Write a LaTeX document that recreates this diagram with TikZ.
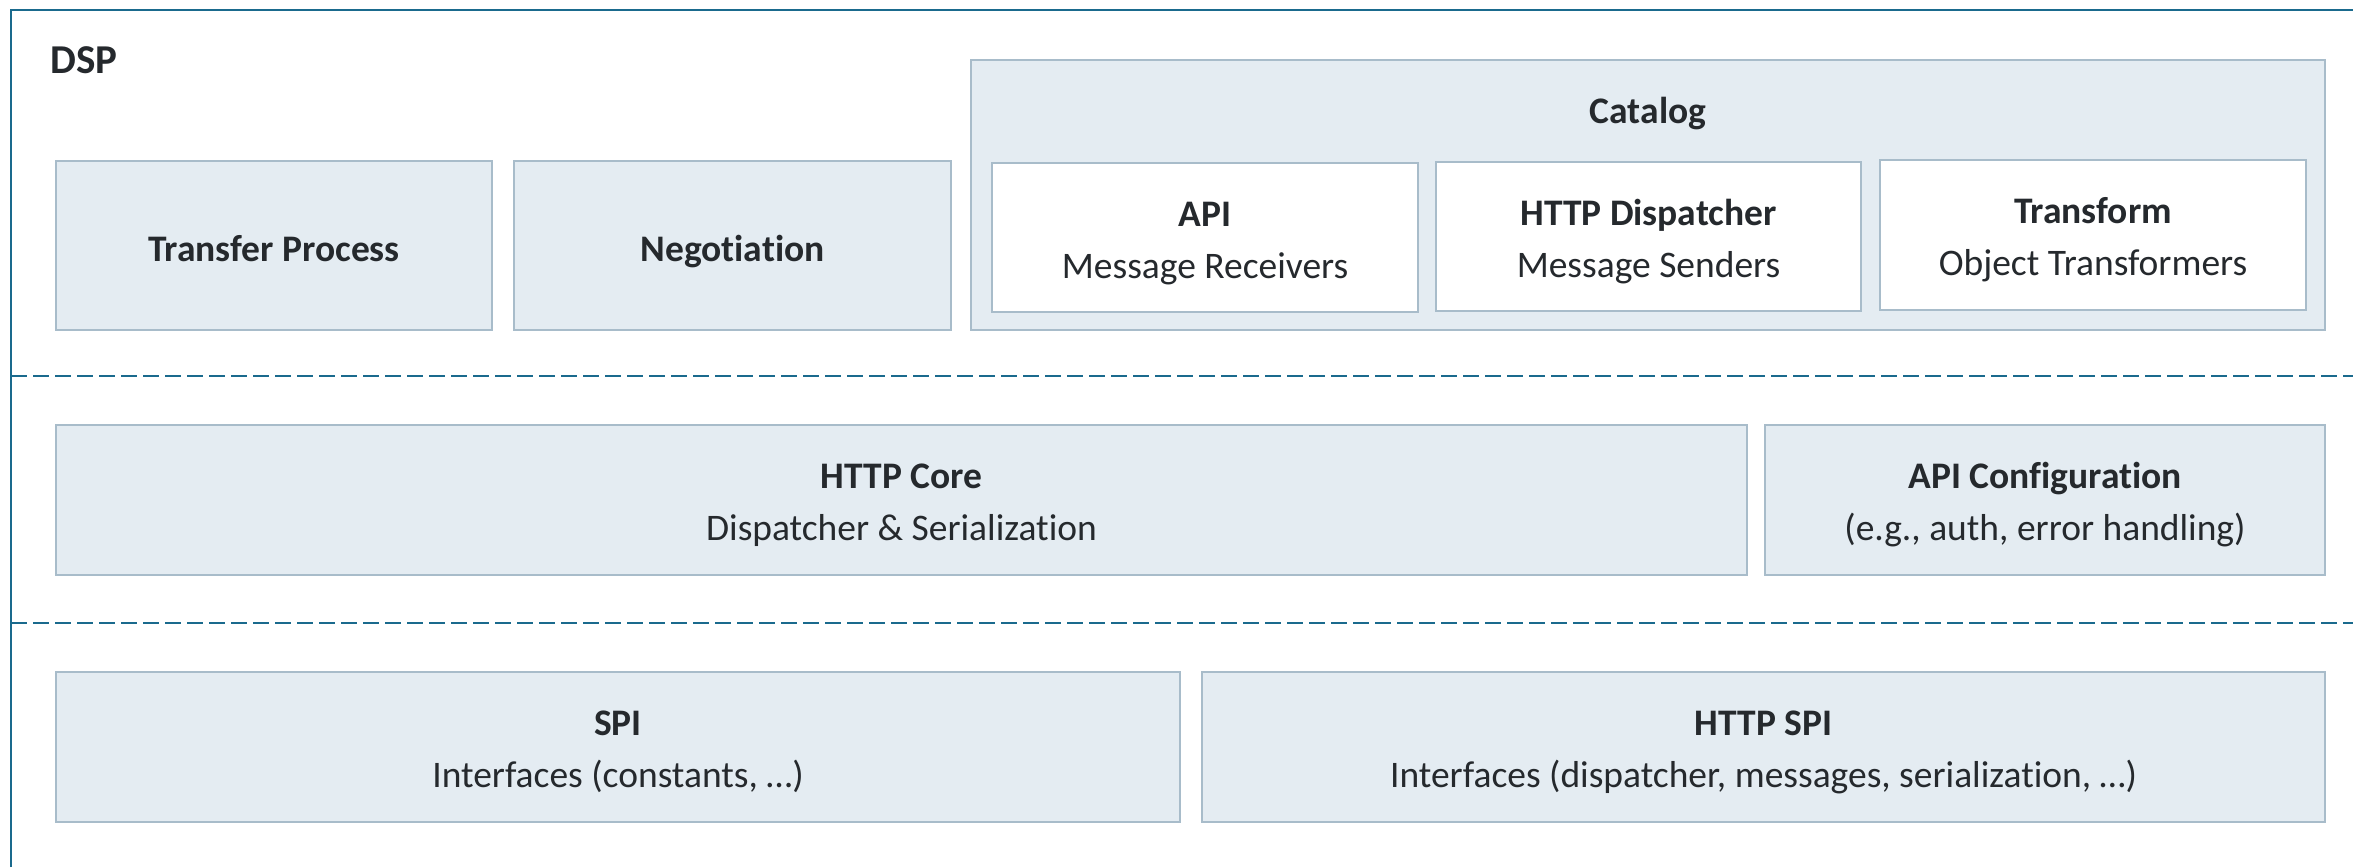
\documentclass[tikz,border=0pt]{standalone}
\usepackage{fontspec}
\setmainfont{Carlito}[RawFeature=-liga]
\usetikzlibrary{fit}
\definecolor{boxfill}{HTML}{E4ECF2}
\definecolor{boxline}{HTML}{A8BCCA}
\definecolor{frameline}{HTML}{1A6A8D}
\definecolor{txt}{HTML}{25292D}
\begin{document}
\begin{tikzpicture}[x=0.5pt,y=-0.5pt,
  box/.style={draw=boxline, line width=1pt, fill=boxfill, inner sep=0pt, outer sep=0pt},
  wbox/.style={box, fill=white},
  sepline/.style={draw=frameline, line width=1.2pt, dash pattern=on 8pt off 3pt},
  frameedge/.style={draw=frameline, line width=1.4pt},
  ttl/.style={anchor=base, inner sep=0pt, text=txt, font=\bfseries\fontsize{18.75}{26}\selectfont},
  sub/.style={anchor=base, inner sep=0pt, text=txt, font=\fontsize{18.75}{26}\selectfont},
  onettl/.style={ttl, yshift=-7.75pt},
  topttl/.style={ttl, yshift=5.75pt},
  botsub/.style={sub, yshift=-20.25pt}]
\useasboundingbox (0,0) rectangle (2353,867);

% outer frame
\coordinate (fbl) at (11,867);
\coordinate (ftl) at (11,10);
\coordinate (ftr) at (2353,10);
\draw[frameedge] (fbl) -- (ftl) -- (ftr);

% separators
\coordinate (s1a) at (11,376);
\coordinate (s1b) at (2353,376);
\coordinate (s2a) at (11,623);
\coordinate (s2b) at (2353,623);
\draw[sepline] (s1a) -- (s1b);
\draw[sepline] (s2a) -- (s2b);

% title
\node[anchor=base west, inner sep=0pt, text=txt, font=\bfseries\fontsize{20.5}{24}\selectfont] (dsp) at (50,73) {DSP};

% top row
\node[box, fit={(56,161) (492,330)}] (tp) {};
\node[onettl] (tpt) at (tp.center) {Transfer Process};
\node[box, fit={(514,161) (951,330)}] (neg) {};
\node[onettl] (negt) at (neg.center) {Negotiation};
\node[box, fit={(971,60) (2325,330)}] (cat) {};
\node[ttl] (catt) at (1648,123) {Catalog};
\node[wbox, fit={(992,163) (1418,312)}] (api) {};
\node[topttl] (apit) at (api.center) {API};
\node[botsub] (apis) at (api.center) {Message Receivers};
\node[wbox, fit={(1436,162) (1861,311)}] (disp) {};
\node[topttl] (dispt) at (disp.center) {HTTP Dispatcher};
\node[botsub] (disps) at (disp.center) {Message Senders};
\node[wbox, fit={(1880,160) (2306,310)}] (trans) {};
\node[topttl] (transt) at (trans.center) {Transform};
\node[botsub] (transs) at (trans.center) {Object Transformers};

% middle row
\node[box, fit={(56,425) (1747,575)}] (core) {};
\node[topttl] (coret) at (core.center) {HTTP Core};
\node[botsub] (cores) at (core.center) {Dispatcher \& Serialization};
\node[box, fit={(1765,425) (2325,575)}] (apiconf) {};
\node[topttl] (apiconft) at (apiconf.center) {API Configuration};
\node[botsub] (apiconfs) at (apiconf.center) {(e.g., auth, error handling)};

% bottom row
\node[box, fit={(56,672) (1180,822)}] (spi) {};
\node[topttl] (spit) at (spi.center) {SPI};
\node[botsub] (spis) at (spi.center) {Interfaces (constants, \dots)};
\node[box, fit={(1202,672) (2325,822)}] (hspi) {};
\node[topttl] (hspit) at (hspi.center) {HTTP SPI};
\node[botsub] (hspis) at (hspi.center) {Interfaces (dispatcher, messages, serialization, \dots)};
\end{tikzpicture}
\end{document}
